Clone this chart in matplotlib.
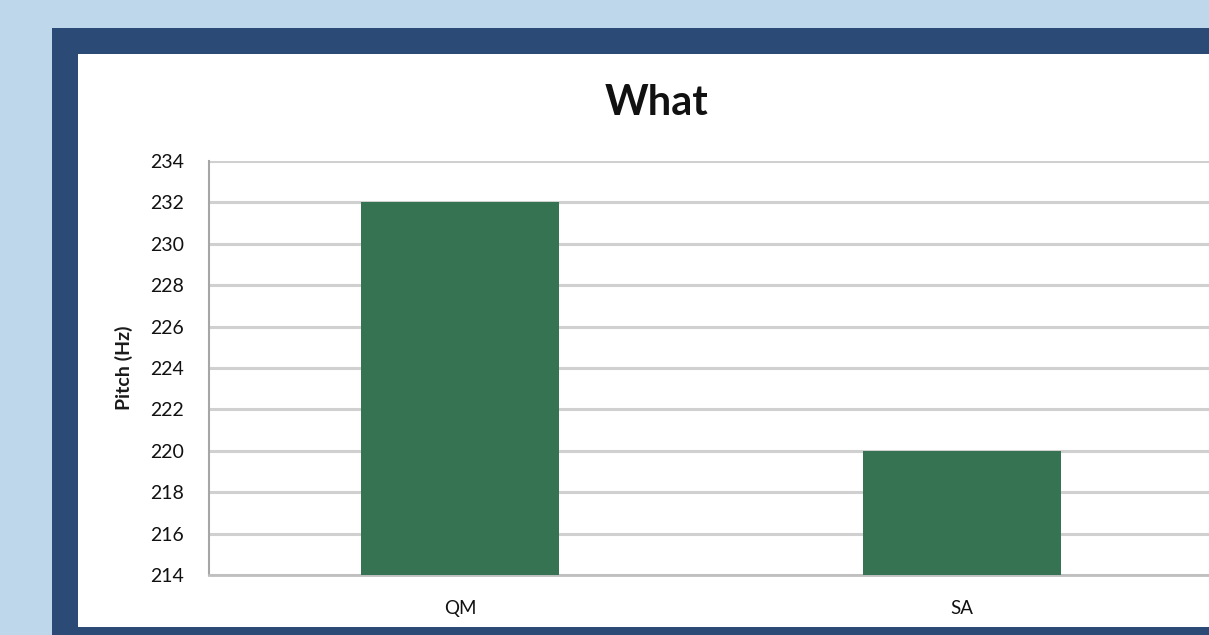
import matplotlib
matplotlib.use("Agg")
import matplotlib.pyplot as plt
from matplotlib.patches import Rectangle

categories = ["QM", "SA"]
pitch_hz = [232, 220]
y_ticks = list(range(214, 235, 2))

W, H = 1209, 635
fig = plt.figure(figsize=(W / 100, H / 100), dpi=100)
fig.patch.set_facecolor("#bfd7ea")

# navy frame and white panel (pixel coords -> figure fraction)
def frac_rect(x0, y0, x1, y1, color, z):
    fig.patches.append(Rectangle((x0 / W, 1 - y1 / H), (x1 - x0) / W, (y1 - y0) / H,
                                 transform=fig.transFigure, facecolor=color,
                                 edgecolor="none", zorder=z))

frac_rect(52, 28, W, H, "#2b4a76", -2)
frac_rect(78, 54, W, 627, "white", -1)

# axes: left 209px, top 161px, bottom 575px, right at figure edge
ax = fig.add_axes([209 / W, 1 - 575 / H, (W - 209) / W, (575 - 161) / H])
ax.set_facecolor("none")

x = list(range(len(categories)))
ax.bar(x, [v - 214 for v in pitch_hz], bottom=214, width=0.395,
       color="#367353", zorder=3)

ax.set_xlim(-0.5, 1.492)
ax.set_ylim(214, 234)
ax.set_yticks(y_ticks)
ax.set_yticklabels([str(t) for t in y_ticks], fontsize=14, family="Lato",
                   color="#111111")
ax.set_xticks(x)
ax.set_xticklabels(categories, fontsize=13.5, family="Lato", color="#111111")
ax.tick_params(axis="both", length=0)
ax.tick_params(axis="y", pad=18)
ax.tick_params(axis="x", pad=18)

ax.grid(axis="y", color="#d0d0d0", linewidth=2.2, zorder=0)
ax.set_axisbelow(True)
for side in ["top", "right"]:
    ax.spines[side].set_visible(False)
ax.spines["left"].set_color("#a6a6a6")
ax.spines["left"].set_linewidth(1.5)
ax.spines["bottom"].set_color("#bfbfbf")
ax.spines["bottom"].set_linewidth(2)

fig.text(124 / W, 1 - 368 / H, "Pitch (Hz)", rotation=90, ha="center",
         va="center", fontsize=14, fontweight="bold", family="Lato",
         color="#1a1a1a")
fig.text(657 / W, 1 - 103 / H, "What", ha="center", va="center",
         fontsize=30, fontweight="bold", family="Lato", color="#111111")

fig.savefig("out.png", dpi=100, facecolor=fig.get_facecolor())
